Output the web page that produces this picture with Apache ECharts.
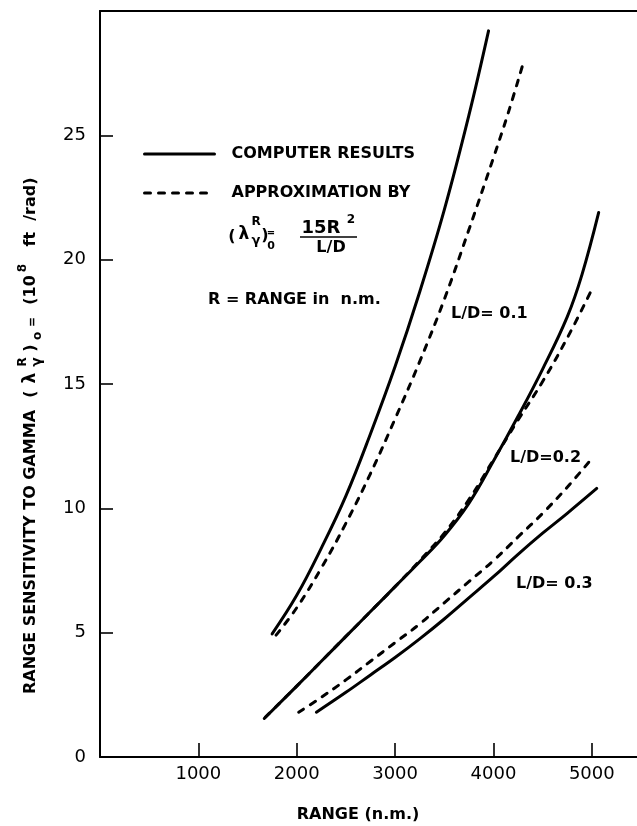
<!DOCTYPE html>
<html>
<head>
<meta charset="utf-8">
<title>Range sensitivity to gamma</title>
<script src="https://cdn.jsdelivr.net/npm/echarts@6/dist/echarts.min.js"></script>
<style>
  html, body { margin: 0; padding: 0; background: #fff; overflow: hidden; }
  #chart { width: 637px; height: 826px; }
</style>
</head>
<body>
<div id="chart"></div>
<script>
// Range (n.m.) and range sensitivity (10^8 ft/rad) for each L/D.
const rangeComputer01 = [1750, 2000, 2250, 2500, 2750, 3000, 3250, 3500, 3750, 3950];
const sensComputer01  = [4.95, 6.5, 8.4, 10.5, 13.0, 15.7, 18.7, 22.0, 25.8, 29.2];
const rangeApprox01   = [1790, 2000, 2250, 2500, 2750, 3000, 3250, 3500, 3750, 4000, 4150, 4310];
const sensApprox01    = [4.9, 6.0, 7.6, 9.4, 11.4, 13.6, 15.9, 18.4, 21.2, 24.1, 25.9, 28.0];

const rangeComputer02 = [1670, 2000, 2250, 2500, 2750, 3000, 3250, 3500, 3750, 4000, 4250, 4500, 4750, 4900, 5070];
const sensComputer02  = [1.55, 2.85, 3.85, 4.85, 5.85, 6.85, 7.85, 8.9, 10.2, 11.9, 13.7, 15.6, 17.7, 19.4, 21.9];
const rangeApprox02   = [1680, 2000, 2250, 2500, 2750, 3000, 3250, 3500, 3750, 4000, 4250, 4500, 4750, 5000];
const sensApprox02    = [1.6, 2.85, 3.85, 4.85, 5.85, 6.85, 7.9, 9.0, 10.35, 11.95, 13.55, 15.1, 16.85, 18.8];

const rangeComputer03 = [2200, 2500, 2750, 3000, 3250, 3500, 3750, 4000, 4250, 4500, 4750, 5050];
const sensComputer03  = [1.8, 2.6, 3.3, 4.0, 4.75, 5.55, 6.4, 7.25, 8.15, 9.0, 9.8, 10.8];
const rangeApprox03   = [2020, 2250, 2500, 2750, 3000, 3250, 3500, 3750, 4000, 4250, 4500, 4750, 5000];
const sensApprox03    = [1.8, 2.4, 3.1, 3.85, 4.6, 5.35, 6.2, 7.05, 7.9, 8.85, 9.8, 10.85, 12.0];

// Axis ticks
const rangeTicks = [1000, 2000, 3000, 4000, 5000];
const sensTickLabels = [0, 5, 10, 15, 20, 25];
const sensTickMarks = [5, 10, 15, 20, 25];

const curveLabels = ['L/D= 0.1', 'L/D=0.2', 'L/D= 0.3'];
const legendNames = ['COMPUTER RESULTS', 'APPROXIMATION BY'];

const FONT = 'DejaVu Sans';
const INK = '#000';
const DASH = [6, 8];

function pairs(xs, ys) { return xs.map((x, i) => [x, ys[i]]); }

function curve(name, xs, ys, dashed) {
  return {
    name: name,
    type: 'line',
    data: pairs(xs, ys),
    symbol: 'none',
    smooth: 0.4,
    silent: true,
    lineStyle: {
      color: INK,
      width: 3,
      cap: 'round',
      join: 'round',
      type: dashed ? DASH : 'solid'
    },
    itemStyle: { color: INK },
    emphasis: { disabled: true }
  };
}

// helper for free text
function txt(x, y, s, size, opts) {
  opts = opts || {};
  return {
    type: 'text',
    x: x, y: y,
    rotation: opts.rot || 0,
    silent: true,
    style: {
      text: s,
      fill: INK,
      fontFamily: FONT,
      fontSize: size,
      fontWeight: opts.weight || 'bold',
      textAlign: opts.align || 'center',
      textVerticalAlign: 'middle',
      align: opts.align || 'center',
      verticalAlign: 'middle'
    }
  };
}

const R90 = Math.PI / 2;

const graphics = [
  // vertical axis title
  txt(31, 552, 'RANGE SENSITIVITY TO GAMMA', 16, { rot: R90 }),
  txt(31, 394, '(', 16, { rot: R90 }),
  txt(31, 378, 'λ', 17, { rot: R90 }),
  txt(23, 362, 'R', 12, { rot: R90 }),
  txt(37, 362, 'γ', 14, { rot: R90 }),
  txt(31, 348, ')', 16, { rot: R90 }),
  txt(38, 336, 'o', 12, { rot: R90 }),
  txt(33, 322, '=', 12, { rot: R90 }),
  txt(31, 290, '(10', 16, { rot: R90 }),
  txt(23, 268, '8', 12, { rot: R90 }),
  txt(31, 212, 'ft  /rad)', 16, { rot: R90 }),

  // horizontal axis title
  txt(358, 815, 'RANGE (n.m.)', 16),

  // approximation formula
  txt(232, 237, '(', 16),
  txt(244, 235, 'λ', 17),
  txt(256, 222, 'R', 12),
  txt(256, 241, 'γ', 13),
  txt(265, 236, ')', 16),
  txt(271, 233, '=', 10),
  txt(271, 246, '0', 11),
  txt(321, 228, '15R', 18),
  txt(351, 220, '2', 12),
  { type: 'line', silent: true, shape: { x1: 300, y1: 237, x2: 357, y2: 237 },
    style: { stroke: INK, lineWidth: 1.6 } },
  txt(331, 248, 'L/D', 16),
  txt(208, 300, 'R = RANGE in  n.m.', 16, { align: 'left' }),

  // curve family labels
  txt(451, 314, curveLabels[0], 16, { align: 'left' }),
  txt(510, 458, curveLabels[1], 16, { align: 'left' }),
  txt(516, 584, curveLabels[2], 16, { align: 'left' })
];

const chart = echarts.init(document.getElementById('chart'), null, { renderer: 'canvas' });
chart.setOption({
  animation: false,
  backgroundColor: '#fff',
  grid: {
    left: 100, top: 11, width: 541, bottom: 69,
    containLabel: false,
    outerBoundsMode: 'none',
    show: false
  },
  legend: {
    data: [
      { name: legendNames[0], lineStyle: { width: 3, type: 'solid', color: INK, cap: 'round' } },
      { name: legendNames[1], lineStyle: { width: 3, type: DASH, color: INK, cap: 'round' } }
    ],
    orient: 'vertical',
    left: 138, top: 141,
    itemWidth: 70, itemHeight: 14, itemGap: 23,
    selectedMode: false,
    itemStyle: { opacity: 0, borderWidth: 0 },
    textStyle: {
      color: INK, fontFamily: FONT, fontWeight: 'bold', fontSize: 16,
      padding: [0, 0, 0, 12]
    }
  },
  xAxis: [
    {
      type: 'value', min: 0, max: 5500, interval: 1000,
      splitLine: { show: false },
      axisLine: { show: true, onZero: false, lineStyle: { color: INK, width: 2 } },
      axisTick: { show: true, inside: true, length: 14, customValues: rangeTicks,
        lineStyle: { color: INK, width: 1.6 } },
      axisLabel: { customValues: rangeTicks, margin: 8, color: INK,
        fontFamily: FONT, fontSize: 18, formatter: v => String(v) }
    },
    {
      // frame line along the top of the plot
      type: 'value', position: 'top', min: 0, max: 5500,
      splitLine: { show: false },
      axisLine: { show: true, onZero: false, lineStyle: { color: INK, width: 2 } },
      axisTick: { show: false },
      axisLabel: { show: false }
    }
  ],
  yAxis: {
    type: 'value', min: 0, max: 30, interval: 5,
    splitLine: { show: false },
    axisLine: { show: true, onZero: false, lineStyle: { color: INK, width: 2 } },
    axisTick: { show: true, inside: true, length: 13, customValues: sensTickMarks,
      lineStyle: { color: INK, width: 1.6 } },
    axisLabel: { customValues: sensTickLabels, margin: 14, color: INK,
      fontFamily: FONT, fontSize: 18, formatter: v => String(v) }
  },
  series: [
    curve(legendNames[1], rangeApprox01, sensApprox01, true),
    curve(legendNames[1], rangeApprox02, sensApprox02, true),
    curve(legendNames[1], rangeApprox03, sensApprox03, true),
    curve(legendNames[0], rangeComputer01, sensComputer01, false),
    curve(legendNames[0], rangeComputer02, sensComputer02, false),
    curve(legendNames[0], rangeComputer03, sensComputer03, false)
  ],
  graphic: graphics
});
</script>
</body>
</html>
